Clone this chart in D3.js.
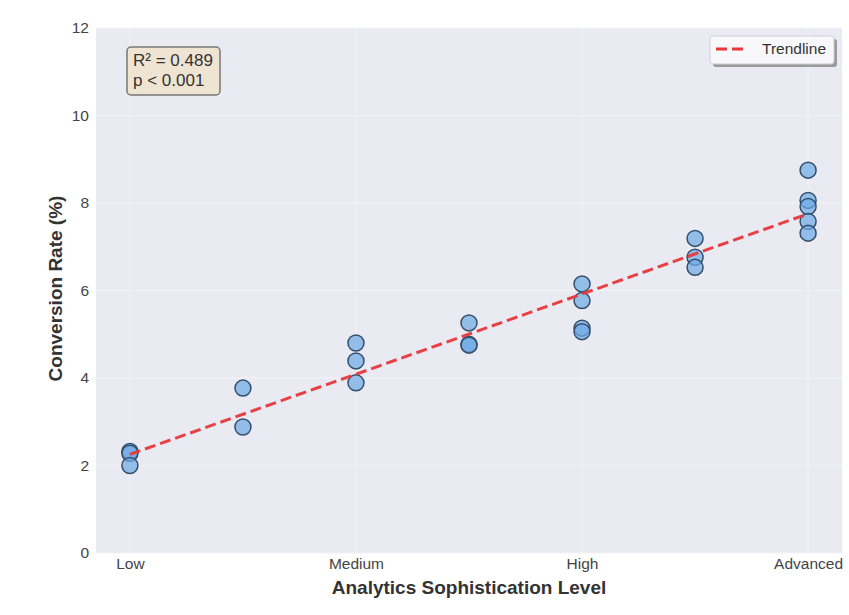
<!DOCTYPE html>
<html>
<head>
<meta charset="utf-8">
<script src="https://cdn.jsdelivr.net/npm/d3@7"></script>
<style>
  html, body { margin: 0; padding: 0; background: #ffffff; }
  svg { display: block; font-family: "Liberation Sans", Arial, sans-serif; }
</style>
</head>
<body>
<svg id="chart" width="849" height="615"></svg>
<script>
// Sophistication levels (1..7) and the observed conversion rates at each level
const levels = [1, 2, 3, 4, 5, 6, 7];
const conversionByLevel = [
  [2.32, 2.28, 2.00],
  [3.77, 2.88],
  [4.80, 4.39, 3.89],
  [5.26, 4.77, 4.75],
  [6.15, 5.77, 5.14, 5.06],
  [7.19, 6.76, 6.53],
  [8.75, 8.06, 7.92, 7.58, 7.31]
];
const xTickValues = [1, 3, 5, 7];
const xTickLabels = ["Low", "Medium", "High", "Advanced"];
const yTickValues = [0, 2, 4, 6, 8, 10, 12];
const statsLines = ["R\u00b2 = 0.489", "p < 0.001"];

const points = [];
levels.forEach((lv, i) => conversionByLevel[i].forEach(v => points.push({ x: lv, y: v })));

const svg = d3.select("#chart");
const plot = { left: 96, right: 842, top: 28, bottom: 553 };

const x = d3.scaleLinear().domain([0.7, 7.3]).range([plot.left, plot.right]);
const y = d3.scaleLinear().domain([0, 12]).range([plot.bottom, plot.top]);

// Plot background
svg.append("rect")
  .attr("x", plot.left).attr("y", plot.top)
  .attr("width", plot.right - plot.left).attr("height", plot.bottom - plot.top)
  .attr("fill", "#eaeaf2");

// Gridlines
const grid = svg.append("g");
grid.selectAll("line.h").data(yTickValues).join("line")
  .attr("x1", plot.left).attr("x2", plot.right)
  .attr("y1", d => y(d)).attr("y2", d => y(d))
  .attr("stroke", "#f3f3f7").attr("stroke-width", 1);
grid.selectAll("line.v").data(xTickValues).join("line")
  .attr("y1", plot.top).attr("y2", plot.bottom)
  .attr("x1", d => x(d)).attr("x2", d => x(d))
  .attr("stroke", "#f3f3f7").attr("stroke-width", 1);

// Axes (labels only, no spines)
const yAxis = d3.axisLeft(y).tickValues(yTickValues).tickSize(0).tickPadding(7);
const gy = svg.append("g").attr("transform", `translate(${plot.left},0)`).call(yAxis);
gy.select(".domain").remove();
gy.selectAll("text").attr("font-size", 15.5).attr("fill", "#444")
  .attr("font-family", "Liberation Sans, Arial, sans-serif");

const xAxis = d3.axisBottom(x).tickValues(xTickValues)
  .tickFormat((d, i) => xTickLabels[i]).tickSize(0).tickPadding(5);
const gx = svg.append("g").attr("transform", `translate(0,${plot.bottom})`).call(xAxis);
gx.select(".domain").remove();
gx.selectAll("text").attr("font-size", 15.5).attr("fill", "#444")
  .attr("font-family", "Liberation Sans, Arial, sans-serif");

// Axis titles
svg.append("text")
  .attr("x", (plot.left + plot.right) / 2).attr("y", 594)
  .attr("text-anchor", "middle").attr("font-size", 19).attr("font-weight", "bold")
  .attr("fill", "#333").text("Analytics Sophistication Level");
svg.append("text")
  .attr("transform", `translate(62,${(plot.top + plot.bottom) / 2 - 2}) rotate(-90)`)
  .attr("text-anchor", "middle").attr("font-size", 19).attr("font-weight", "bold")
  .attr("fill", "#333").text("Conversion Rate (%)");

// Data points
svg.append("g").selectAll("circle").data(points).join("circle")
  .attr("cx", d => x(d.x)).attr("cy", d => y(d.y)).attr("r", 8)
  .attr("fill", "rgba(110,170,230,0.7)")
  .attr("stroke", "#334f6b").attr("stroke-width", 1.5);

// Least-squares trendline over the data range
const mx = d3.mean(points, d => d.x), my = d3.mean(points, d => d.y);
const sxy = d3.sum(points, d => (d.x - mx) * (d.y - my));
const sxx = d3.sum(points, d => (d.x - mx) ** 2);
const slope = sxy / sxx, intercept = my - slope * mx;
const xExt = d3.extent(points, d => d.x);
const trend = xExt.map(v => ({ x: v, y: intercept + slope * v }));
svg.append("path").datum(trend)
  .attr("d", d3.line().x(d => x(d.x)).y(d => y(d.y)))
  .attr("fill", "none").attr("stroke", "#e8383b").attr("stroke-opacity", 0.95)
  .attr("stroke-width", 3).attr("stroke-dasharray", "11,5");

// Statistics box
const sb = svg.append("g");
sb.append("rect").attr("x", 127).attr("y", 47).attr("width", 93).attr("height", 48)
  .attr("rx", 4).attr("fill", "#efe4d2").attr("stroke", "#777").attr("stroke-width", 1.5);
sb.selectAll("text").data(statsLines).join("text")
  .attr("x", 133).attr("y", (d, i) => 66 + i * 20)
  .attr("font-size", 17).attr("fill", "#333").text(d => d);

// Legend
const lg = svg.append("g");
lg.append("rect").attr("x", 713).attr("y", 39).attr("width", 124).attr("height", 28)
  .attr("rx", 3).attr("fill", "#9a9a9a");
lg.append("rect").attr("x", 710).attr("y", 36).attr("width", 124).attr("height", 28)
  .attr("rx", 3).attr("fill", "#f8f8fa").attr("stroke", "#cfcfd4").attr("stroke-width", 1);
lg.append("line").attr("x1", 716).attr("x2", 745).attr("y1", 49).attr("y2", 49)
  .attr("stroke", "#e8383b").attr("stroke-width", 3).attr("stroke-dasharray", "11,5");
lg.append("text").attr("x", 762).attr("y", 54).attr("font-size", 15.5).attr("fill", "#333")
  .text("Trendline");
</script>
</body>
</html>
